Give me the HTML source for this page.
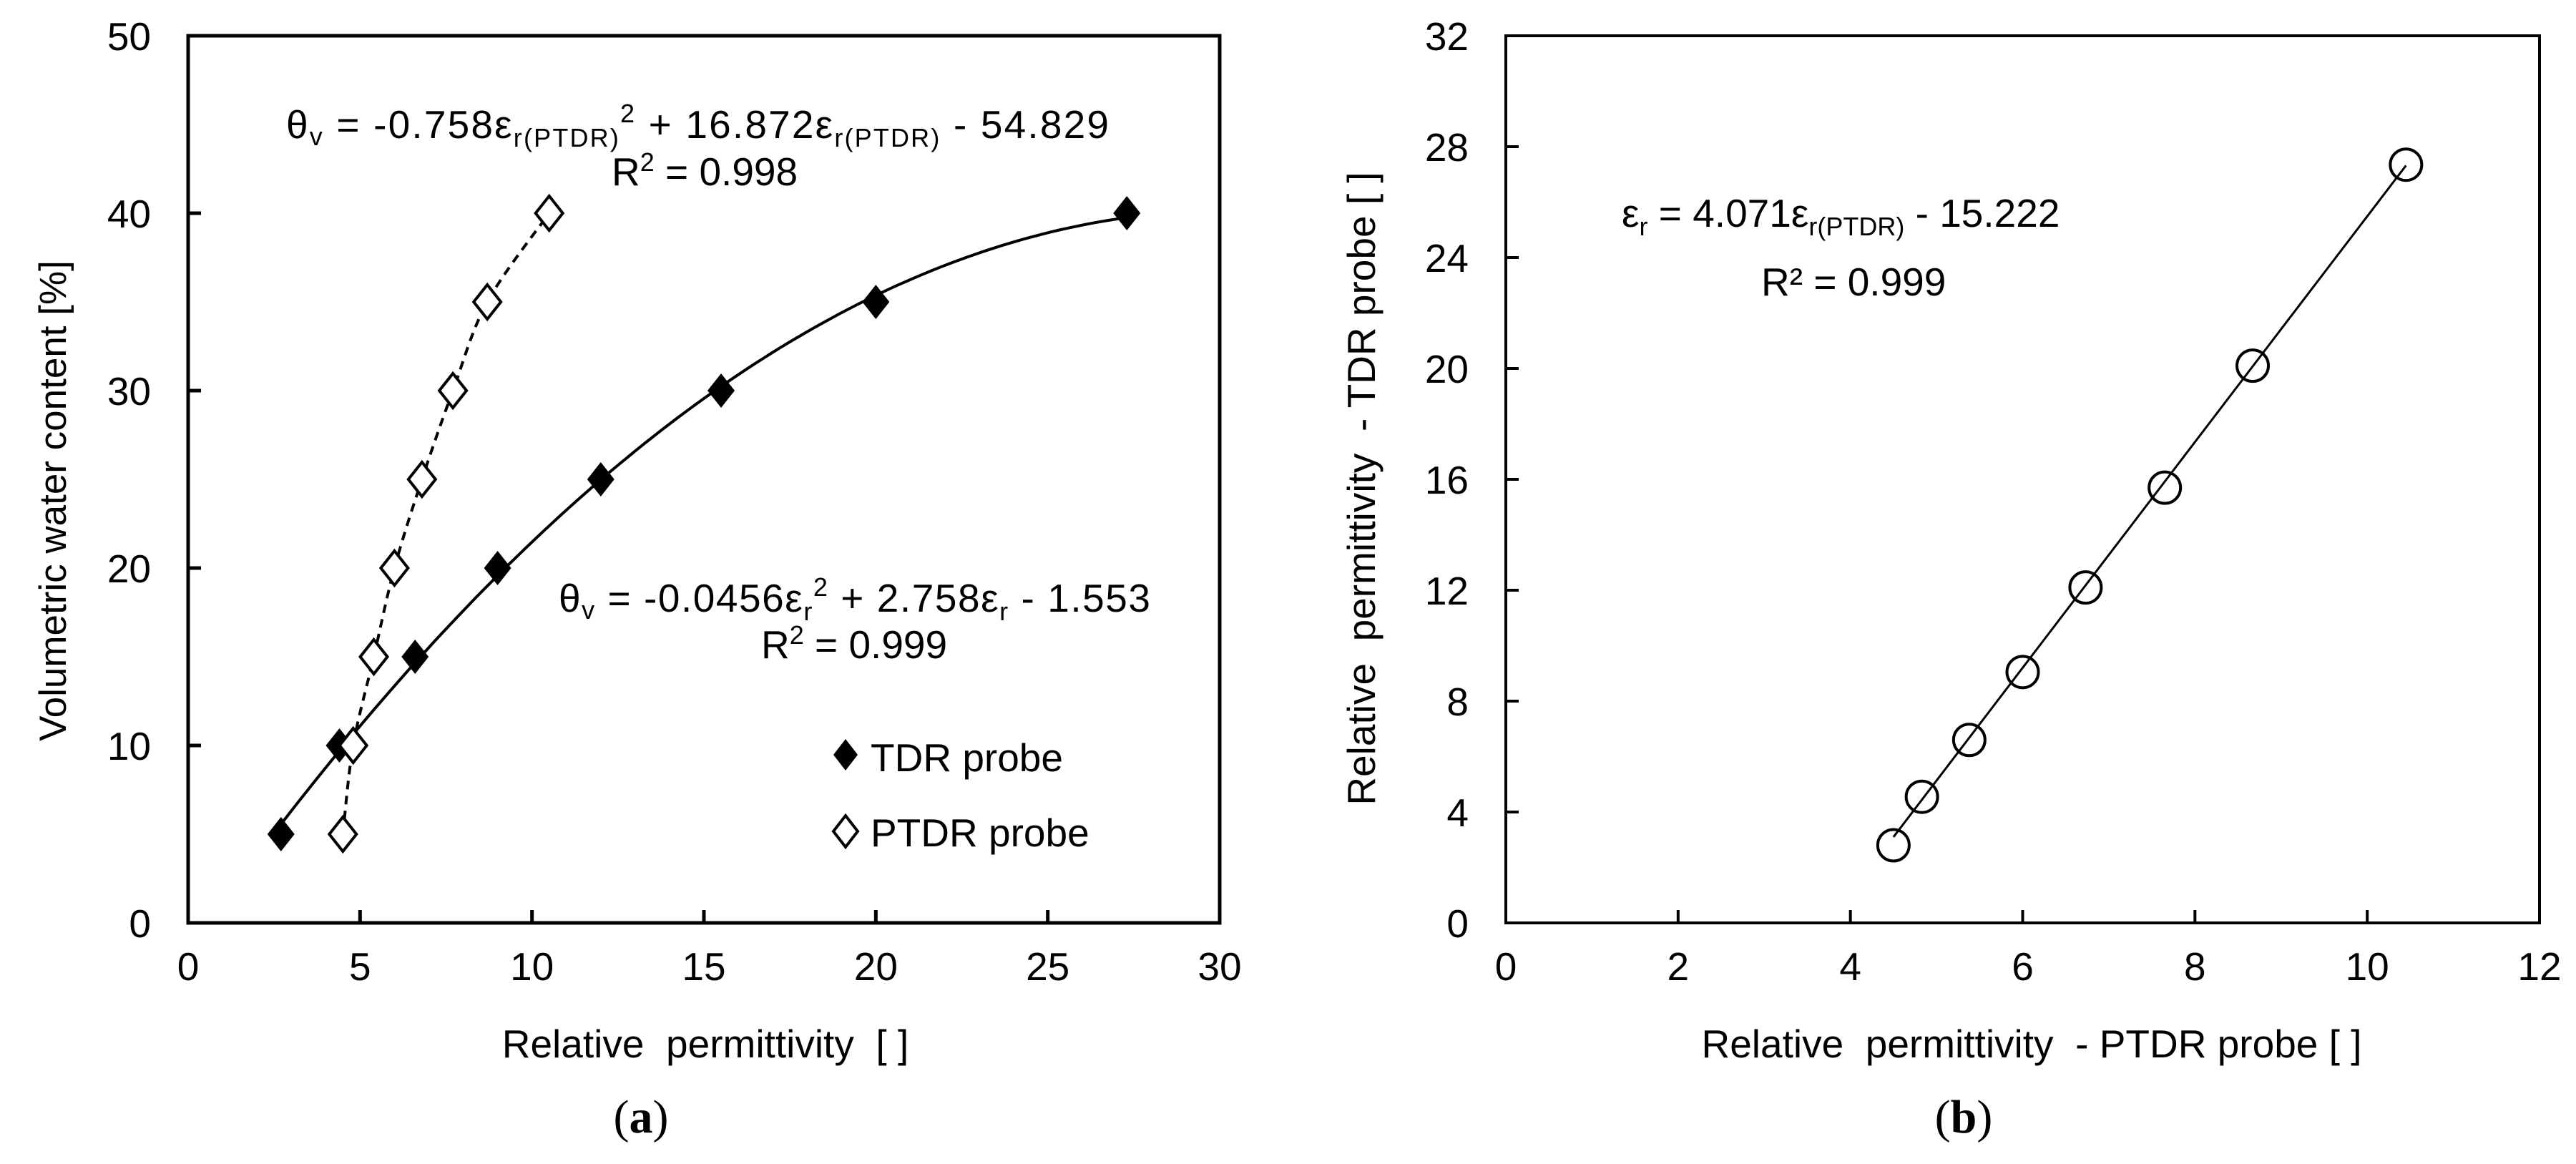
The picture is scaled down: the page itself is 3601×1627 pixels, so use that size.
<!DOCTYPE html>
<html><head><meta charset="utf-8">
<style>
html,body{margin:0;padding:0;background:#fff;}
svg{display:block;font-family:"Liberation Sans",Arial,sans-serif;}
.t{font-size:55px;fill:#000;}
</style></head>
<body>
<svg id="chart" width="3601" height="1627" viewBox="0 0 3601 1627" xmlns="http://www.w3.org/2000/svg">
<rect width="3601" height="1627" fill="#fff"/>
<g id="pa"></g>
<g id="pb"></g>

<!-- panel a texts -->
<text class="t" x="400" y="193" textLength="1150">θ<tspan font-size="36" dy="10">v</tspan><tspan dy="-10"> = -0.758ε</tspan><tspan font-size="36" dy="12">r(PTDR)</tspan><tspan font-size="36" dy="-34">2</tspan><tspan dy="22">  + 16.872ε</tspan><tspan font-size="36" dy="12">r(PTDR)</tspan><tspan dy="-12">  - 54.829</tspan></text>
<text class="t" x="855" y="259">R<tspan font-size="36" dy="-20">2</tspan><tspan dy="20"> = 0.998</tspan></text>
<text class="t" x="781" y="855" textLength="827">θ<tspan font-size="36" dy="10">v</tspan><tspan dy="-10"> = -0.0456ε</tspan><tspan font-size="36" dy="12">r</tspan><tspan font-size="36" dy="-34">2</tspan><tspan dy="22"> + 2.758ε</tspan><tspan font-size="36" dy="12">r</tspan><tspan dy="-12"> - 1.553</tspan></text>
<text class="t" x="1064" y="920">R<tspan font-size="36" dy="-20">2</tspan><tspan dy="20"> = 0.999</tspan></text>
<g>
<path d="M1182 1033 L1199 1055 L1182 1077 L1165 1055 Z" fill="#000"/>
<text class="t" x="1217" y="1078">TDR probe</text>
<path d="M1182 1140 L1199 1162 L1182 1184 L1165 1162 Z" fill="#fff" stroke="#000" stroke-width="4"/>
<text class="t" x="1217" y="1183">PTDR probe</text>
</g>
<text class="t" x="986" y="1478" text-anchor="middle" xml:space="preserve">Relative  permittivity  [ ]</text>
<text class="t" transform="translate(92,700) rotate(-90)" text-anchor="middle" style="font-size:53px">Volumetric water content [%]</text>
<text x="896" y="1583" text-anchor="middle" font-family="Liberation Serif, serif" font-size="66">(<tspan font-weight="bold">a</tspan>)</text>

<!-- panel b texts -->
<text class="t" x="2267" y="317">ε<tspan font-size="36" dy="12">r</tspan><tspan dy="-12"> = 4.071ε</tspan><tspan font-size="36" dy="12">r(PTDR)</tspan><tspan dy="-12">  - 15.222</tspan></text>
<text class="t" x="2462" y="413">R² = 0.999</text>
<text class="t" x="2840" y="1478" text-anchor="middle" xml:space="preserve">Relative  permittivity  - PTDR probe [ ]</text>
<text class="t" transform="translate(1922,683) rotate(-90)" text-anchor="middle" xml:space="preserve">Relative  permittivity  - TDR probe [ ]</text>
<text x="2745" y="1583" text-anchor="middle" font-family="Liberation Serif, serif" font-size="66">(<tspan font-weight="bold">b</tspan>)</text>
</svg>
<script>
// Panel a data
const tdrX = [2.7, 4.4, 6.6, 9.0, 12.0, 15.5, 20.0, 27.3];
const tdrY = [5, 10, 15, 20, 25, 30, 35, 40];
const ptdrX = [4.5, 4.8, 5.4, 6.0, 6.8, 7.7, 8.7, 10.5];
const ptdrY = [5, 10, 15, 20, 25, 30, 35, 40];
const tdrFit = [-0.0456, 2.758, -1.553];
const aXTicks = [0, 5, 10, 15, 20, 25, 30];
const aYTicks = [0, 10, 20, 30, 40, 50];
// Panel b data
const bX = [4.5, 4.83, 5.38, 6.0, 6.73, 7.65, 8.67, 10.45];
const bY = [2.8, 4.55, 6.6, 9.05, 12.1, 15.7, 20.1, 27.35];
const bFit = [4.071, -15.222];
const bXTicks = [0, 2, 4, 6, 8, 10, 12];
const bYTicks = [0, 4, 8, 12, 16, 20, 24, 28, 32];

const NS = 'http://www.w3.org/2000/svg';
function mk(tag, attrs, parent){const e=document.createElementNS(NS,tag);for(const k in attrs)e.setAttribute(k,attrs[k]);parent.appendChild(e);return e;}

function axes(g, L, R, T, B, xmin, xmax, ymin, ymax, xt, yt, sw){
  const sx = v => L + (v - xmin) / (xmax - xmin) * (R - L);
  const sy = v => B - (v - ymin) / (ymax - ymin) * (B - T);
  const box = mk('rect', {x:L, y:T, width:R-L, height:B-T, fill:'none', stroke:'#000', 'stroke-width':sw}, g);
  
  
  xt.forEach(v => {
    const x = sx(v);
    const tk = mk('line', {x1:x, x2:x, y1:B, y2:B-18, stroke:'#000', 'stroke-width':sw}, g);
    
    
    const t = mk('text', {x:x, y:B+80, 'text-anchor':'middle', class:'t'}, g);
    t.textContent = v;
    
    
  });
  yt.forEach(v => {
    const y = sy(v);
    const tk = mk('line', {x1:L, x2:L+18, y1:y, y2:y, stroke:'#000', 'stroke-width':sw}, g);
    
    
    const t = mk('text', {x:L-52, y:y+20, 'text-anchor':'end', class:'t'}, g);
    t.textContent = v;
    
    
  });
  return {sx, sy};
}

function smooth(pts){
  let d = 'M' + pts[0][0] + ' ' + pts[0][1];
  for (let i = 0; i < pts.length - 1; i++){
    const p0 = pts[Math.max(0,i-1)], p1 = pts[i], p2 = pts[i+1], p3 = pts[Math.min(pts.length-1,i+2)];
    const c1 = [p1[0]+(p2[0]-p0[0])/6, p1[1]+(p2[1]-p0[1])/6];
    const c2 = [p2[0]-(p3[0]-p1[0])/6, p2[1]-(p3[1]-p1[1])/6];
    d += ' C' + c1.join(' ') + ' ' + c2.join(' ') + ' ' + p2.join(' ');
  }
  return d;
}
function diamond(x,y){return `M${x} ${y-24} L${x+19} ${y} L${x} ${y+24} L${x-19} ${y} Z`;}

// Panel a
const ga = document.getElementById('pa');
const A = axes(ga, 263, 1705, 50, 1290, 0, 30, 0, 50, aXTicks, aYTicks, 5);
let d = '';
const x0 = Math.min(...tdrX), x1 = Math.max(...tdrX);
for (let i = 0; i <= 100; i++){
  const xv = x0 + (x1 - x0) * i / 100;
  const yv = tdrFit[0]*xv*xv + tdrFit[1]*xv + tdrFit[2];
  d += (i ? ' L' : 'M') + A.sx(xv).toFixed(1) + ' ' + A.sy(yv).toFixed(1);
}
const tl = mk('path', {d:d, fill:'none', stroke:'#000', 'stroke-width':4}, ga);


const pl = mk('path', {d:smooth(ptdrX.map((v,i)=>[A.sx(v),A.sy(ptdrY[i])])), fill:'none', stroke:'#000', 'stroke-width':4, 'stroke-dasharray':'12 9'}, ga);


tdrX.forEach((v,i) => {
  const m = mk('path', {d:diamond(A.sx(v), A.sy(tdrY[i])), fill:'#000'}, ga);
  
  
});
ptdrX.forEach((v,i) => {
  const m = mk('path', {d:diamond(A.sx(v), A.sy(ptdrY[i])), fill:'#fff', stroke:'#000', 'stroke-width':4}, ga);
  
  
});

// Panel b
const gb = document.getElementById('pb');
const Bx = axes(gb, 2105, 3550, 50, 1290, 0, 12, 0, 32, bXTicks, bYTicks, 4);
const bx0 = Math.min(...bX), bx1 = Math.max(...bX);
const bl = mk('line', {x1:Bx.sx(bx0), y1:Bx.sy(bFit[0]*bx0+bFit[1]), x2:Bx.sx(bx1), y2:Bx.sy(bFit[0]*bx1+bFit[1]), stroke:'#000', 'stroke-width':3}, gb);


bX.forEach((v,i) => {
  const c = mk('circle', {cx:Bx.sx(v), cy:Bx.sy(bY[i]), r:22, fill:'none', stroke:'#000', 'stroke-width':4}, gb);
  
  
});
</script>
</body></html>
